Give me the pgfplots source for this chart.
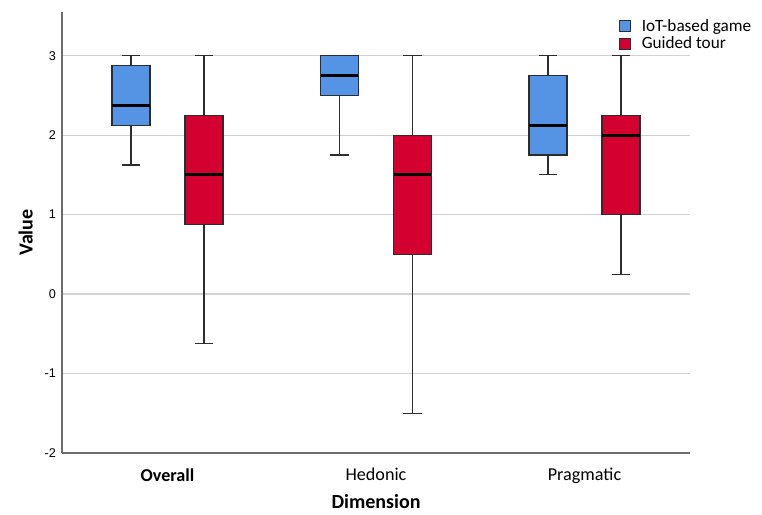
\documentclass[border=0pt]{standalone}
\usepackage{pgfplots}
\pgfplotsset{compat=1.18}
\usepgfplotslibrary{statistics}
\usepackage{fontspec}
\setmainfont{Carlito}
\newfontfamily\arialfont{Liberation Sans}
\definecolor{iotblue}{RGB}{85,148,228}
\definecolor{tourred}{RGB}{212,0,48}
\definecolor{boxline}{RGB}{45,45,45}
\begin{document}
\begin{tikzpicture}[x=0.75pt,y=0.75pt]
\begin{axis}[
  name=main, at={(0,0)}, anchor=south west,
  scale only axis, width=471pt, height=330.75pt,
  xmin=-0.506, xmax=2.506, ymin=-2, ymax=3.55,
  axis x line*=bottom, axis y line*=left,
  axis line style={draw=gray!85!black, line width=1.1pt, -},
  xtick={0,1,2}, xticklabels={\textbf{Overall},Hedonic,Pragmatic},
  ytick={-2,-1,0,1,2,3}, yticklabels={-2,-1,0,1,2,3},
  major tick length=0pt,
  xticklabel style={font=\fontsize{13.6}{15}\selectfont, yshift=-8pt},
  yticklabel style={font=\arialfont\fontsize{9.5}{11}\selectfont, xshift=-1pt},
  ymajorgrids, grid style={draw=gray!35, line width=0.9pt},
  xlabel={\textbf{Dimension}}, ylabel={\textbf{Value}},
  xlabel style={font=\fontsize{15}{17}\selectfont, inner sep=0pt, yshift=-4.5pt},
  ylabel style={font=\fontsize{15}{17}\selectfont, yshift=2pt},
  boxplot/draw direction=y,
  boxplot/box extend=0.182,
  boxplot/whisker extend=0.09,
  legend style={at={(0.887,0.99)}, anchor=north west, draw=none, fill=none,
    font=\fontsize{12.9}{14}\selectfont, row sep=-1.5pt, inner sep=0pt,
    legend cell align=left,
    /tikz/every odd column/.append style={column sep=6pt}},
  legend image code/.code={\draw[#1, line width=0.6pt] (0pt,-4.1pt) rectangle (8.25pt,4.1pt);},
]
\addlegendimage{fill=iotblue, draw=boxline}
\addlegendentry{IoT-based game}
\addlegendimage{fill=tourred, draw=boxline}
\addlegendentry{Guided tour}
% Overall
\addplot[forget plot, fill=iotblue, draw=boxline, line width=0.85pt,
  boxplot prepared={draw position=-0.175, lower whisker=1.625, lower quartile=2.125,
  median=2.375, upper quartile=2.875, upper whisker=3},
  boxplot/every median/.style={draw=black, line width=2.2pt}] coordinates {};
\addplot[forget plot, fill=tourred, draw=boxline, line width=0.85pt,
  boxplot prepared={draw position=0.175, lower whisker=-0.625, lower quartile=0.875,
  median=1.5, upper quartile=2.25, upper whisker=3},
  boxplot/every median/.style={draw=black, line width=2.2pt}] coordinates {};
% Hedonic
\addplot[forget plot, fill=iotblue, draw=boxline, line width=0.85pt,
  boxplot prepared={draw position=0.825, lower whisker=1.75, lower quartile=2.5,
  median=2.75, upper quartile=3, upper whisker=3},
  boxplot/every median/.style={draw=black, line width=2.2pt}] coordinates {};
\addplot[forget plot, fill=tourred, draw=boxline, line width=0.85pt,
  boxplot prepared={draw position=1.175, lower whisker=-1.5, lower quartile=0.5,
  median=1.5, upper quartile=2, upper whisker=3},
  boxplot/every median/.style={draw=black, line width=2.2pt}] coordinates {};
% Pragmatic
\addplot[forget plot, fill=iotblue, draw=boxline, line width=0.85pt,
  boxplot prepared={draw position=1.825, lower whisker=1.5, lower quartile=1.75,
  median=2.125, upper quartile=2.75, upper whisker=3},
  boxplot/every median/.style={draw=black, line width=2.2pt}] coordinates {};
\addplot[forget plot, fill=tourred, draw=boxline, line width=0.85pt,
  boxplot prepared={draw position=2.175, lower whisker=0.25, lower quartile=1,
  median=2, upper quartile=2.25, upper whisker=3},
  boxplot/every median/.style={draw=black, line width=2.2pt}] coordinates {};
\end{axis}
\pgfresetboundingbox
\path[use as bounding box] (main.south west) ++(-62,-61) rectangle ++(762,514);
\end{tikzpicture}
\end{document}
